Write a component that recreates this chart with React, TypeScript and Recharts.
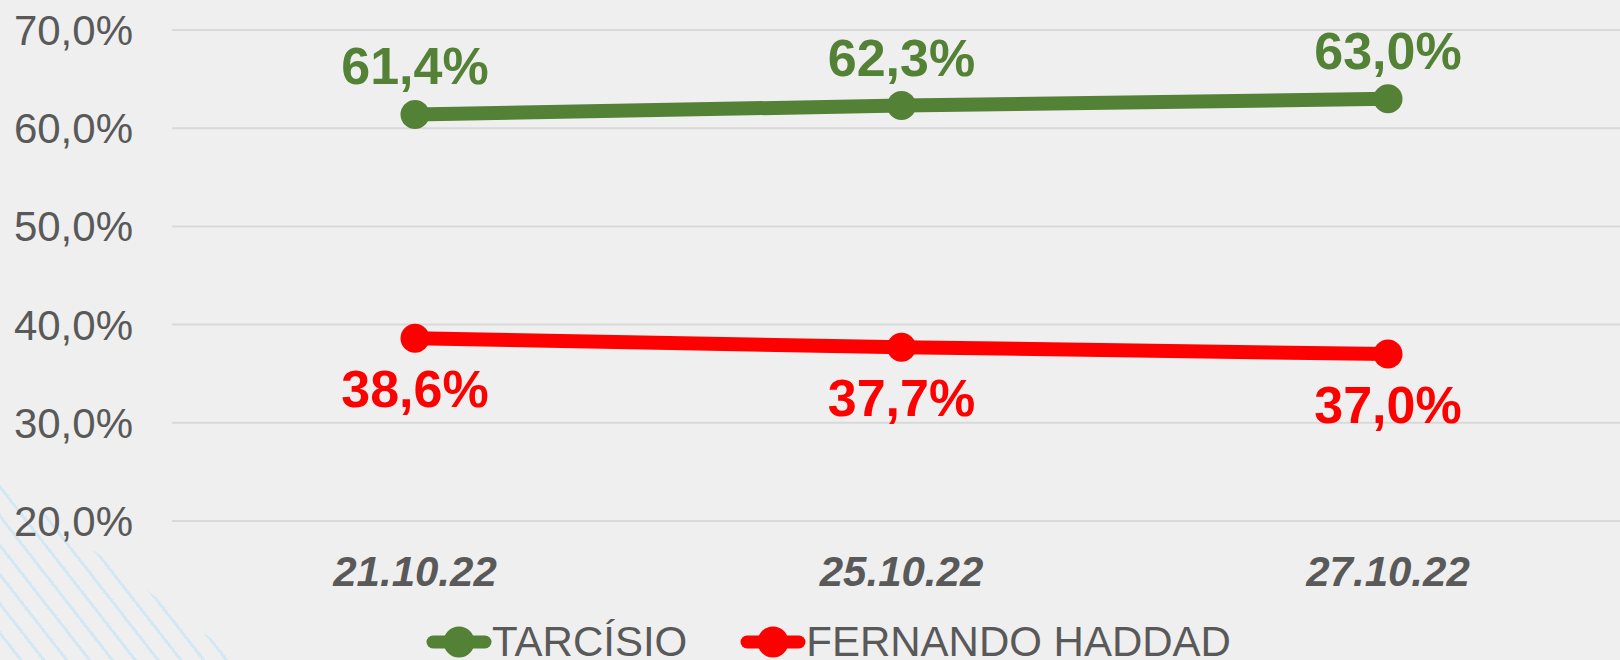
import { LineChart, Line, XAxis, YAxis, CartesianGrid, Legend, LabelList } from "recharts";

const dates = ["21.10.22", "25.10.22", "27.10.22"];
const tarcisio = [61.4, 62.3, 63.0];
const haddad = [38.6, 37.7, 37.0];
const yTicks = [20, 30, 40, 50, 60, 70];

const GREEN = "#538135";
const RED = "#ff0000";
const GREY = "#595959";
const FONT = "'Liberation Sans', Arial, sans-serif";

const data = dates.map((d, i) => ({ date: d, tarcisio: tarcisio[i], haddad: haddad[i] }));

const pct = (v: number) => `${v.toFixed(1).replace(".", ",")}%`;

const legendItems = [
  { name: "TARCÍSIO", color: GREEN },
  { name: "FERNANDO HADDAD", color: RED },
];

function LegendContent() {
  return (
    <div style={{ display: "flex", alignItems: "center", paddingLeft: 426, marginTop: 20, height: 42 }}>
      {legendItems.map((item, i) => (
        <div key={item.name} style={{ display: "flex", alignItems: "center", marginRight: i === 0 ? 53 : 0 }}>
          <svg width={66} height={34} style={{ display: "block" }}>
            <line x1={7} y1={17} x2={59} y2={17} stroke={item.color} strokeWidth={13} strokeLinecap="round" />
            <circle cx={33} cy={17} r={15.5} fill={item.color} />
          </svg>
          <span style={{ fontFamily: FONT, fontSize: 42, lineHeight: "42px", color: GREY }}>{item.name}</span>
        </div>
      ))}
    </div>
  );
}

export default function App() {
  return (
    <div
      style={{
        position: "relative",
        width: 1620,
        height: 660,
        background: "#efefef",
        overflow: "hidden",
      }}
    >
      <style>{`body{margin:0}`}</style>
      {/* faint blue diagonal strokes bottom-left */}
      <div
        style={{
          position: "absolute",
          left: 0,
          top: 480,
          width: 240,
          height: 180,
          background:
            "repeating-linear-gradient(52deg, transparent 0px, transparent 15px, #d4e8f4 15px, #d4e8f4 18px)",
          clipPath: "polygon(0 0, 100% 100%, 0 100%)",
        }}
      />
      <div style={{ position: "absolute", left: 0, top: 0 }}>
        <LineChart width={1620} height={660} data={data} margin={{ top: 30, right: 0, left: 0, bottom: 0 }}>
          <CartesianGrid vertical={false} stroke="#d9d9d9" strokeWidth={2} />
          <XAxis
            dataKey="date"
            axisLine={false}
            tickLine={false}
            tickSize={0}
            tickMargin={35}
            height={80}
            padding={{ left: 243, right: 232 }}
            tick={{ fill: GREY, fontSize: 42, fontWeight: "bold", fontStyle: "italic", fontFamily: FONT }}
          />
          <YAxis
            domain={[20, 70]}
            ticks={yTicks}
            axisLine={false}
            tickLine={false}
            tickSize={0}
            tickMargin={39}
            width={172}
            tickFormatter={(v: number) => pct(v)}
            tick={{ fill: GREY, fontSize: 42, fontFamily: FONT }}
          />
          <Legend
            verticalAlign="bottom"
            height={59}
            content={() => <LegendContent />}
            wrapperStyle={{ left: 0, width: 1620, height: 59 }}
          />
          <Line
            dataKey="tarcisio"
            name="TARCÍSIO"
            stroke={GREEN}
            strokeWidth={14}
            dot={{ r: 14.5, fill: GREEN, stroke: GREEN, strokeWidth: 0 }}
            activeDot={false}
            isAnimationActive={false}
          >
            <LabelList
              dataKey="tarcisio"
              position="top"
              offset={30}
              formatter={(v: number) => pct(v)}
              style={{ fill: GREEN, fontSize: 52, fontWeight: "bold", fontFamily: FONT }}
            />
          </Line>
          <Line
            dataKey="haddad"
            name="FERNANDO HADDAD"
            stroke={RED}
            strokeWidth={14}
            dot={{ r: 14.5, fill: RED, stroke: RED, strokeWidth: 0 }}
            activeDot={false}
            isAnimationActive={false}
          >
            <LabelList
              dataKey="haddad"
              position="bottom"
              offset={32}
              formatter={(v: number) => pct(v)}
              style={{ fill: RED, fontSize: 52, fontWeight: "bold", fontFamily: FONT }}
            />
          </Line>
        </LineChart>
      </div>
    </div>
  );
}
